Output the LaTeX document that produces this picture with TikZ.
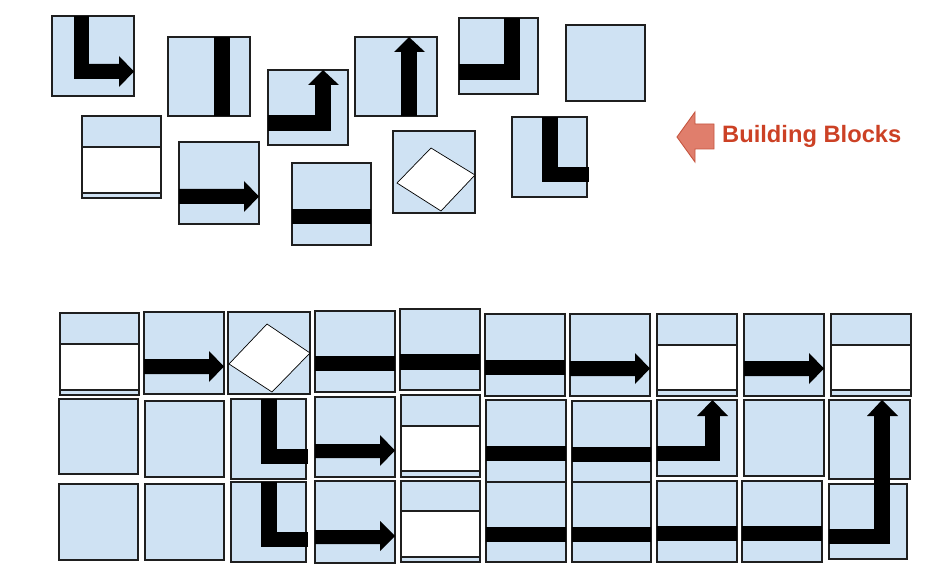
\documentclass[tikz,border=0pt]{standalone}
\usepackage{fontspec}
\newfontfamily\bbfont{Liberation Sans}
\definecolor{tileblue}{HTML}{CFE2F3}
\definecolor{tileedge}{HTML}{1F1F1F}
\definecolor{bbfill}{HTML}{E07E6C}
\definecolor{bbedge}{HTML}{C5553F}
\definecolor{bbtext}{HTML}{CC4125}
\tikzset{
  tile/.style={fill=tileblue, draw=tileedge, line width=1.1pt},
  wbox/.style={fill=white, draw=tileedge, line width=1.1pt},
  bar/.style={fill=black, draw=none},
  diam/.style={fill=white, draw=black, line width=0.7pt, line join=miter},
  bbarrow/.style={fill=bbfill, draw=bbedge, line width=0.9pt},
  bblabel/.style={text=bbtext, font=\bbfont\bfseries\fontsize{23.7}{26}\selectfont, inner sep=0pt, anchor=base west}
}
\begin{document}
\begin{tikzpicture}[x=1pt,y=-1pt]
\useasboundingbox (0,0) rectangle (950,577);
% ---------------- Building blocks (top) ----------------
% A: L turning right
\draw[tile] (52,16) rectangle (134,96);
\fill[bar] (74,16) rectangle (89,79);
\fill[bar] (74,64) -- (119,64) -- (119,56) -- (134,71.5) -- (119,87) -- (119,79) -- (74,79) -- cycle;
% B: vertical bar
\draw[tile] (168,37) rectangle (250,116);
\fill[bar] (214,37) rectangle (230,116);
% C: L turning up
\draw[tile] (268,70) rectangle (348,145);
\fill[bar] (268,115) rectangle (331,131);
\fill[bar] (315,85) rectangle (331,131);
\fill[bar] (308,85) -- (323,70) -- (339,85) -- cycle;
% D: white box
\draw[tile] (82,116) rectangle (161,198);
\draw[wbox] (82,147) rectangle (161,193);
% E: right arrow
\draw[tile] (179,142) rectangle (259,224);
\fill[bar] (179,189) -- (244,189) -- (244,181) -- (259,196.5) -- (244,212) -- (244,204) -- (179,204) -- cycle;
% F: horizontal bar
\draw[tile] (292,163) rectangle (371,245);
\fill[bar] (292,209) rectangle (371,224);
% G: up arrow
\draw[tile] (355,37) rectangle (437,116);
\fill[bar] (401,52) rectangle (417,116);
\fill[bar] (394,52) -- (409,37) -- (425,52) -- cycle;
% H: corner
\draw[tile] (459,18) rectangle (538,94);
\fill[bar] (504,18) rectangle (520,80);
\fill[bar] (459,64) rectangle (520,80);
% I: empty
\draw[tile] (566,25) rectangle (645,101);
% J: diamond
\draw[tile] (393,131) rectangle (475,213);
\draw[diam] (431,148) -- (475,175) -- (441,211) -- (397,183) -- cycle;
% K: L corner
\draw[tile] (512,117) rectangle (587,197);
\fill[bar] (542,117) rectangle (558,182);
\fill[bar] (542,167) rectangle (589,182);
% label arrow and text
\draw[bbarrow] (677,137) -- (695,112) -- (695,124) -- (714,124) -- (714,149) -- (695,149) -- (695,162) -- cycle;
\node[bblabel] (bb) at (722,143) {Building Blocks};
% ---------------- Grid (bottom) ----------------
% Row 1
\draw[tile] (60,313) rectangle (139,395);
\draw[wbox] (60,344) rectangle (139,390);
\draw[tile] (144,312) rectangle (224,394);
\fill[bar] (144,359) -- (209,359) -- (209,351) -- (224,366.5) -- (209,382) -- (209,374) -- (144,374) -- cycle;
\draw[tile] (228,312) rectangle (310,394);
\draw[diam] (267,324) -- (310,353) -- (272,392) -- (229,364) -- cycle;
\draw[tile] (315,311) rectangle (395,392);
\fill[bar] (315,356) rectangle (395,371);
\draw[tile] (400,309) rectangle (480,390);
\fill[bar] (400,354) rectangle (480,370);
\draw[tile] (485,314) rectangle (565,396);
\fill[bar] (485,360) rectangle (565,375);
\draw[tile] (570,314) rectangle (650,396);
\fill[bar] (570,361) -- (635,361) -- (635,353) -- (650,368.5) -- (635,384) -- (635,376) -- (570,376) -- cycle;
\draw[tile] (657,314) rectangle (737,396);
\draw[wbox] (657,345) rectangle (737,390);
\draw[tile] (744,314) rectangle (824,396);
\fill[bar] (744,361) -- (809,361) -- (809,353) -- (824,368.5) -- (809,384) -- (809,376) -- (744,376) -- cycle;
\draw[tile] (831,314) rectangle (911,396);
\draw[wbox] (831,345) rectangle (911,390);
% Row 2
\draw[tile] (59,399) rectangle (138,474);
\draw[tile] (145,401) rectangle (224,477);
\draw[tile] (231,399) rectangle (306,479);
\fill[bar] (261,399) rectangle (277,464);
\fill[bar] (261,449) rectangle (308,464);
\draw[tile] (315,397) rectangle (395,477);
\fill[bar] (315,444) -- (380,444) -- (380,435) -- (395,450.5) -- (380,466) -- (380,458) -- (315,458) -- cycle;
\draw[tile] (401,395) rectangle (480,477);
\draw[wbox] (401,426) rectangle (480,471);
\draw[tile] (486,400) rectangle (566,482);
\fill[bar] (486,446) rectangle (566,461);
\draw[tile] (572,401) rectangle (651,482);
\fill[bar] (572,447) rectangle (651,462);
\draw[tile] (657,400) rectangle (737,476);
\fill[bar] (657,446) rectangle (720,461);
\fill[bar] (705,416) rectangle (720,461);
\fill[bar] (697,416) -- (712.5,400) -- (728,416) -- cycle;
\draw[tile] (744,400) rectangle (824,476);
\draw[tile] (829,400) rectangle (910,479);
\fill[bar] (874,416) rectangle (890,479);
\fill[bar] (867,416) -- (882,400) -- (898,416) -- cycle;
% Row 3
\draw[tile] (59,484) rectangle (138,560);
\draw[tile] (145,484) rectangle (224,560);
\draw[tile] (231,482) rectangle (306,562);
\fill[bar] (261,482) rectangle (277,547);
\fill[bar] (261,532) rectangle (308,547);
\draw[tile] (315,481) rectangle (395,563);
\fill[bar] (315,530) -- (380,530) -- (380,521) -- (395,536) -- (380,551) -- (380,544) -- (315,544) -- cycle;
\draw[tile] (401,481) rectangle (480,562);
\draw[wbox] (401,511) rectangle (480,557);
\draw[tile] (486,482) rectangle (566,562);
\fill[bar] (486,527) rectangle (566,542);
\draw[tile] (572,482) rectangle (651,562);
\fill[bar] (572,527) rectangle (651,542);
\draw[tile] (657,481) rectangle (737,562);
\fill[bar] (657,526) rectangle (737,541);
\draw[tile] (742,481) rectangle (822,562);
\fill[bar] (742,526) rectangle (822,541);
\draw[tile] (829,484) rectangle (907,559);
\fill[bar] (874,478) rectangle (890,544);
\fill[bar] (829,529) rectangle (890,544);
\end{tikzpicture}
\end{document}
